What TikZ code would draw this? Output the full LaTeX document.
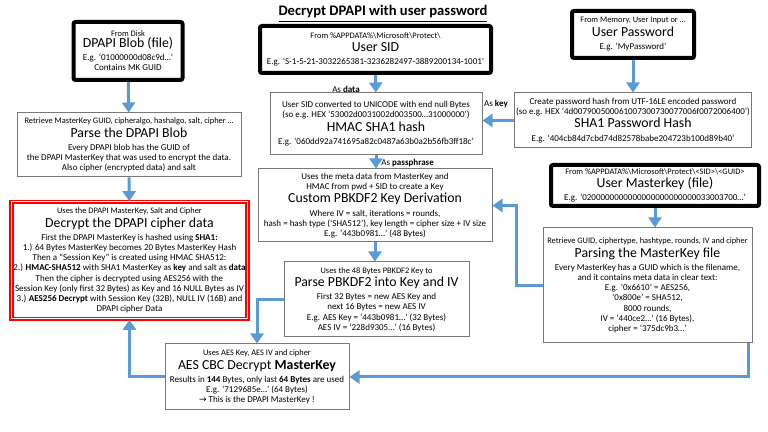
\documentclass[tikz,border=0pt]{standalone}
\usepackage{fontspec}
\setmainfont{Carlito}
\newfontfamily\symfont{DejaVu Sans}
\usetikzlibrary{arrows.meta}
\definecolor{flowblue}{RGB}{91,155,213}
\definecolor{boxgray}{RGB}{120,120,120}
\newcommand{\capt}{\fontsize{4.2}{5.1}\selectfont}
\newcommand{\ttl}[1]{{\fontsize{6.9}{8}\selectfont\rule[-2.5pt]{0pt}{7.5pt}#1}}

\begin{document}
\begin{tikzpicture}[x=0.5pt, y=-0.5pt,
    font=\fontsize{4.5}{5.1}\selectfont,
    src/.style={draw=black, line width=2pt, rounded corners=1pt, align=center, inner sep=1pt},
    stepbox/.style={draw=boxgray, line width=0.5pt, align=center, inner sep=1pt},
    result/.style={draw=red, line width=0.8pt, double=white, double distance=0.5pt, align=center, inner sep=1pt},
    flow/.style={draw=flowblue, line width=1.5pt, -{Triangle[width=6.5pt,length=5pt]}},
    lbl/.style={inner sep=0pt}]
\useasboundingbox (0,0) rectangle (768,432);

\node[lbl, font=\bfseries\fontsize{7.3}{8.5}\selectfont] (title) at (383,14) {\underline{Decrypt DPAPI with user password}};

% inputs
\node[src, minimum width=54.5pt, minimum height=29pt] (blob) at (128,51)
  {{\capt From Disk}\\\ttl{DPAPI Blob (file)}\\E.g. ‘01000000d08c9d…’\\Contains MK GUID};
\node[src, minimum width=115.5pt, minimum height=23.5pt] (sid) at (375.5,49.5)
  {{\capt From \%APPDATA\%\textbackslash Microsoft\textbackslash Protect\textbackslash}\\\ttl{User SID}\\E.g. ‘S-1-5-21-3032265381-3236282497-3889200134-1001’};
\node[src, minimum width=61pt, minimum height=23.5pt] (pwd) at (633,34.5)
  {{\capt From Memory, User Input or …}\\\ttl{User Password}\\E.g. ‘MyPassword’};
\node[src, minimum width=104pt, minimum height=20.5pt] (umk) at (655,185.5)
  {{\capt From \%APPDATA\%\textbackslash Microsoft\textbackslash Protect\textbackslash <SID>\textbackslash <GUID>}\\\ttl{User Masterkey (file)}\\E.g. ‘0200000000000000000000000033003700…’};

% steps
\node[stepbox, minimum width=112pt, minimum height=32pt] (parseblob) at (129,145)
  {{\capt Retrieve MasterKey GUID, cipheralgo, hashalgo, salt, cipher …}\\\ttl{Parse the DPAPI Blob}\\Every DPAPI blob has the GUID of\\the DPAPI MasterKey that was used to encrypt the data.\\Also cipher (encrypted data) and salt};
\node[stepbox, minimum width=106pt, minimum height=31pt] (hmac) at (376,124)
  {User SID converted to UNICODE with end null Bytes\\(so e.g. HEX ‘53002d0031002d003500…31000000’)\\\ttl{HMAC SHA1 hash}\\E.g. ‘060dd92a741695a82c0487a63b0a2b56fb3ff18c’};
\node[stepbox, minimum width=116.5pt, minimum height=27.5pt] (sha1) at (633,120.5)
  {Create password hash from UTF-16LE encoded password\\(so e.g. HEX ‘4d007900500061007300730077006f0072006400’)\\\ttl{SHA1 Password Hash}\\E.g. ‘404cb84d7cbd74d82578babe204723b100d89b40’};
\node[stepbox, minimum width=117pt, minimum height=36.5pt] (pbkdf) at (375,205.5)
  {Uses the meta data from MasterKey and\\HMAC from pwd + SID to create a Key\\\ttl{Custom PBKDF2 Key Derivation}\\Where IV = salt, iterations = rounds,\\hash = hash type (‘SHA512’), key length =  cipher size + IV size\\E.g. ‘443b0981…’  (48 Bytes)};
\node[stepbox, minimum width=104.5pt, minimum height=57.5pt] (parsemk) at (647.5,285.5)
  {{\capt Retrieve GUID, ciphertype, hashtype,  rounds, IV and cipher}\\\ttl{Parsing the MasterKey file}\\Every MasterKey has a GUID which is the filename,\\and it contains meta data in clear text:\\E.g. ‘0x6610’ = AES256,\\‘0x800e’ = SHA512,\\8000 rounds,\\IV = ‘440ce2…’ (16 Bytes),\\cipher = ‘375dc9b3…’};
\node[stepbox, minimum width=92.5pt, minimum height=37.5pt] (ppbk) at (376.5,299.5)
  {{\capt Uses the 48 Bytes PBKDF2 Key to}\\\ttl{Parse PBKDF2 into Key and IV}\\First 32 Bytes = new AES Key and\\next 16 Bytes = new AES IV\\E.g. AES Key = ‘443b0981…’  (32 Bytes)\\AES IV = ‘228d9305…’  (16 Bytes)};
\node[stepbox, minimum width=92pt, minimum height=33pt] (aes) at (257,377)
  {{\capt Uses AES Key, AES IV and cipher}\\\ttl{AES CBC Decrypt \textbf{MasterKey}}\\Results in \textbf{144} Bytes, only last \textbf{64 Bytes} are used\\E.g. ‘7129685e…’  (64 Bytes)\\{\symfont →} This is the DPAPI MasterKey !};
\node[result, minimum width=117.5pt, minimum height=58.5pt] (decrypt) at (129.5,260.5)
  {{\capt Uses the  DPAPI MasterKey, Salt and Cipher}\\\ttl{Decrypt the DPAPI cipher data}\\First the DPAPI MasterKey is hashed using \textbf{SHA1:}\\1.) 64 Bytes MasterKey becomes  20 Bytes MasterKey Hash\\Then a “Session  Key” is created using HMAC SHA512:\\2.) \textbf{HMAC-SHA512} with SHA1 MasterKey as \textbf{key} and salt as \textbf{data}\\Then the cipher is decrypted using  AES256 with the\\Session Key (only first 32 Bytes) as Key and 16 NULL Bytes as IV\\3.) \textbf{AES256 Decrypt} with Session  Key (32B), NULL IV (16B) and\\DPAPI cipher Data};

% labels
\node[lbl] (asdata) at (346,89) {As \textbf{data}};
\node[lbl] (askey) at (496,104) {As \textbf{key}};
\node[lbl, anchor=west] (aspass) at (381,163) {As \textbf{passphrase}};

% connectors
\draw[flow] (blob) -- (parseblob);
\draw[flow] (parseblob) -- (decrypt);
\draw[flow] (sid) -- (hmac);
\draw[flow] (pwd) -- (sha1);
\draw[flow] (sha1.west) -- (sha1.west -| hmac.east);
\draw[flow] (hmac.south) -- (hmac.south |- pbkdf.north);
\draw[flow] (umk.south) -- (umk.south |- parsemk.north);
\draw[flow] (parsemk.west) -- ++(-26,0) |- (pbkdf.east);
\draw[flow] (pbkdf.south) -- (pbkdf.south |- ppbk.north);
\draw[flow] (ppbk.west) -| (aes.north);
\draw[flow] ([xshift=-2pt]parsemk.south east) |- (aes.east);
\draw[flow] (aes.west) -| (decrypt.south);
\end{tikzpicture}
\end{document}
